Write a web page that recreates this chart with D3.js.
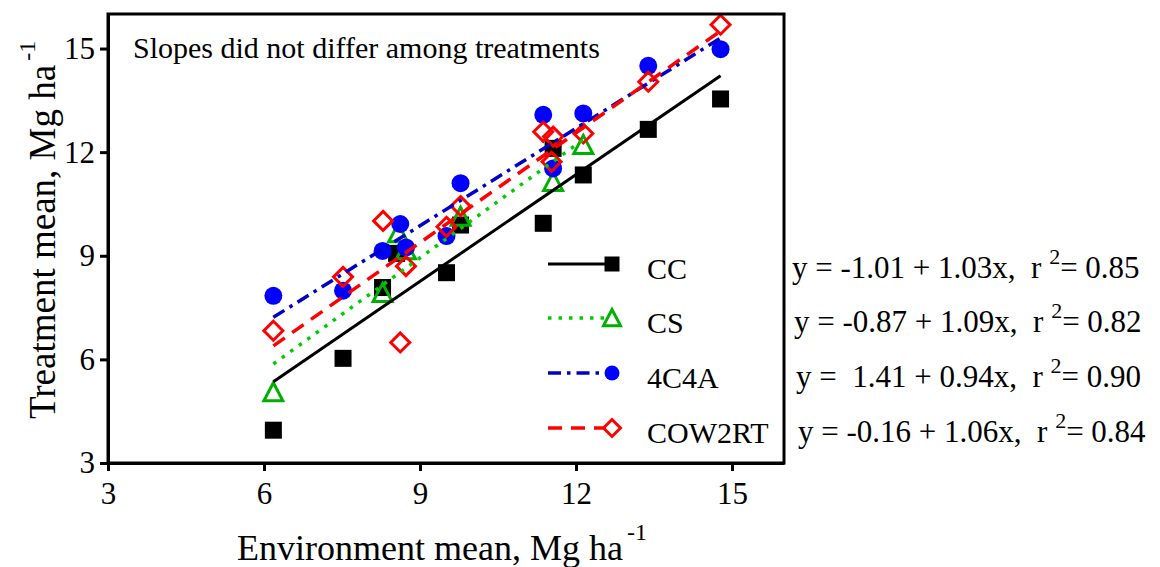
<!DOCTYPE html>
<html>
<head>
<meta charset="utf-8">
<script src="https://cdn.jsdelivr.net/npm/d3@7"></script>
<style>
    body { margin: 0; background: #fff; }
    text { font-family: "Liberation Serif", "Times New Roman", serif; fill: #000; }
</style>
</head>
<body>
<div class="chart"></div>
<script>
// values (Mg ha-1)
var ccX = [6.18, 7.52, 8.28, 8.55, 9.51, 9.78, 11.37, 11.56, 12.14, 13.39, 14.78];
var ccY = [3.95, 6.03, 8.08, 9.07, 8.51, 9.89, 9.94, 12.11, 11.34, 12.66, 13.54];

var csX = [6.18, 8.28, 8.58, 8.73, 9.78, 11.56, 12.14];
var csY = [5.05, 7.92, 9.65, 9.16, 10.13, 11.14, 12.21];

var c4aX = [6.18, 7.52, 8.28, 8.62, 8.73, 9.51, 9.78, 11.37, 11.56, 12.14, 13.39, 14.78];
var c4aY = [7.84, 7.99, 9.14, 9.92, 9.24, 9.57, 11.10, 13.08, 11.53, 13.12, 14.50, 14.98];

var cowX = [6.18, 7.52, 8.29, 8.62, 8.73, 9.51, 9.78, 11.37, 11.53, 11.56, 12.14, 13.39, 14.78];
var cowY = [6.83, 8.39, 10.01, 6.49, 8.70, 9.84, 10.44, 12.59, 11.72, 12.45, 12.54, 14.04, 15.69];

var treatments = ['CC', 'CS', '4C4A', 'COW2RT'];
var intercepts = [-1.01, -0.87, 1.41, -0.16];
var slopes = [1.03, 1.09, 0.94, 1.06];
var rSquared = ['0.85', '0.82', '0.90', '0.84'];
var equationText = ['y = -1.01 + 1.03x,  r', 'y = -0.87 + 1.09x,  r', 'y =  1.41 + 0.94x,  r', 'y = -0.16 + 1.06x,  r'];

var tickValues = [3, 6, 9, 12, 15];

(function () {
    var width = 1160, height = 567;

    var series = [
        { name: treatments[0], xs: ccX, ys: ccY, shape: 'square', color: '#000', line: '#000', dash: null },
        { name: treatments[1], xs: csX, ys: csY, shape: 'triangle', color: '#00b000', line: '#00cc00', dash: '3.5,7' },
        { name: treatments[2], xs: c4aX, ys: c4aY, shape: 'circle', color: '#0000ff', line: '#0000c8', dash: '13,6,3.5,6' },
        { name: treatments[3], xs: cowX, ys: cowY, shape: 'diamond', color: '#ff0000', line: '#ff0000', dash: '14,9' }
    ];

    var svg = d3.select('.chart')
        .append('svg')
        .attr('width', width)
        .attr('height', height);

    var x = d3.scaleLinear().domain([3, 16]).range([108, 784]);
    var y = d3.scaleLinear().domain([3, 16]).range([463, 14]);

    var drawMarker = function (g, shape, color, size) {
        if (shape === 'square') {
            g.append('rect')
                .attr('x', -size / 2).attr('y', -size / 2)
                .attr('width', size).attr('height', size)
                .attr('fill', color);
        } else if (shape === 'circle') {
            g.append('circle')
                .attr('r', size / 2)
                .attr('fill', color);
        } else if (shape === 'triangle') {
            var h = size / 2;
            g.append('path')
                .attr('d', 'M0,' + (-h) + 'L' + h + ',' + (h * 0.9) + 'L' + (-h) + ',' + (h * 0.9) + 'Z')
                .attr('fill', 'none')
                .attr('stroke', color)
                .attr('stroke-width', 3)
                .attr('stroke-linejoin', 'miter');
        } else {
            var d = size / 2;
            g.append('path')
                .attr('d', 'M0,' + (-d) + 'L' + d + ',0L0,' + d + 'L' + (-d) + ',0Z')
                .attr('fill', 'none')
                .attr('stroke', color)
                .attr('stroke-width', 3);
        }
    };

    var markerSize = { square: 17, circle: 18, triangle: 19, diamond: 19 };

    // scatter points
    series.forEach(function (s) {
        s.xs.forEach(function (xv, i) {
            var g = svg.append('g')
                .attr('transform', 'translate(' + x(xv) + ',' + y(s.ys[i]) + ')');
            drawMarker(g, s.shape, s.color, markerSize[s.shape]);
        });
    });

    // fitted lines over each treatment's range
    series.forEach(function (s, i) {
        var x0 = d3.min(s.xs), x1 = d3.max(s.xs);
        var fit = [x0, x1].map(function (xv) { return [xv, intercepts[i] + slopes[i] * xv]; });
        svg.append('path')
            .attr('d', d3.line().x(function (d) { return x(d[0]); }).y(function (d) { return y(d[1]); })(fit))
            .attr('fill', 'none')
            .attr('stroke', s.line)
            .attr('stroke-width', s.dash ? 3.5 : 3)
            .attr('stroke-dasharray', s.dash);
    });

    // frame
    svg.append('rect')
        .attr('x', x(3)).attr('y', y(16))
        .attr('width', x(16) - x(3)).attr('height', y(3) - y(16))
        .attr('fill', 'none')
        .attr('stroke', '#000')
        .attr('stroke-width', 3);

    var xAxis = svg.append('g')
        .attr('transform', 'translate(0,' + y(3) + ')')
        .call(d3.axisBottom(x).tickValues(tickValues).tickSize(8).tickSizeOuter(0).tickPadding(11));

    var yAxis = svg.append('g')
        .attr('transform', 'translate(' + x(3) + ',0)')
        .call(d3.axisLeft(y).tickValues(tickValues).tickSize(8).tickSizeOuter(0).tickPadding(5));

    [xAxis, yAxis].forEach(function (a) {
        a.select('.domain').attr('stroke-width', 3);
        a.selectAll('.tick line').attr('stroke-width', 3);
        a.selectAll('.tick text')
            .style('font-family', '"Liberation Serif", serif')
            .style('font-size', '31px')
            .attr('fill', '#000');
    });

    // axis titles
    var xTitle = svg.append('text')
        .attr('x', 237)
        .attr('y', 560)
        .style('font-size', '36px');
    xTitle.append('tspan').text('Environment mean, Mg ha');
    xTitle.append('tspan').attr('dy', -20).attr('dx', 4).style('font-size', '24px').text('-1');

    var yTitle = svg.append('text')
        .attr('transform', 'translate(55,419) rotate(-90)')
        .style('font-size', '37px');
    yTitle.append('tspan').text('Treatment mean, Mg ha');
    yTitle.append('tspan').attr('dy', -20).attr('dx', 4).style('font-size', '24px').text('-1');

    svg.append('text')
        .attr('x', 133)
        .attr('y', 58)
        .style('font-size', '30px')
        .text('Slopes did not differ among treatments');

    // legend with equations
    var rowY = [264, 318, 373, 428];
    var eqX = [792, 794, 796, 798];
    var legendSize = { square: 15, circle: 15, triangle: 17, diamond: 17 };

    series.forEach(function (s, i) {
        var row = svg.append('g').attr('transform', 'translate(0,' + rowY[i] + ')');

        row.append('line')
            .attr('x1', 548).attr('x2', 606)
            .attr('y1', 0).attr('y2', 0)
            .attr('stroke', s.line)
            .attr('stroke-width', s.dash ? 3.5 : 3)
            .attr('stroke-dasharray', s.dash);

        var m = row.append('g').attr('transform', 'translate(612,0)');
        drawMarker(m, s.shape, s.color, legendSize[s.shape]);

        row.append('text')
            .attr('x', 647)
            .attr('y', 15)
            .style('font-size', '30px')
            .text(s.name);

        var eq = row.append('text')
            .attr('x', eqX[i])
            .attr('y', 14)
            .attr('xml:space', 'preserve')
            .style('white-space', 'pre')
            .style('font-size', '31px');
        eq.append('tspan').text(equationText[i] + ' ');
        eq.append('tspan').attr('dy', -14).style('font-size', '22px').text('2');
        eq.append('tspan').attr('dy', 14).text('= ' + rSquared[i]);
    });
})();
</script>
</body>
</html>
